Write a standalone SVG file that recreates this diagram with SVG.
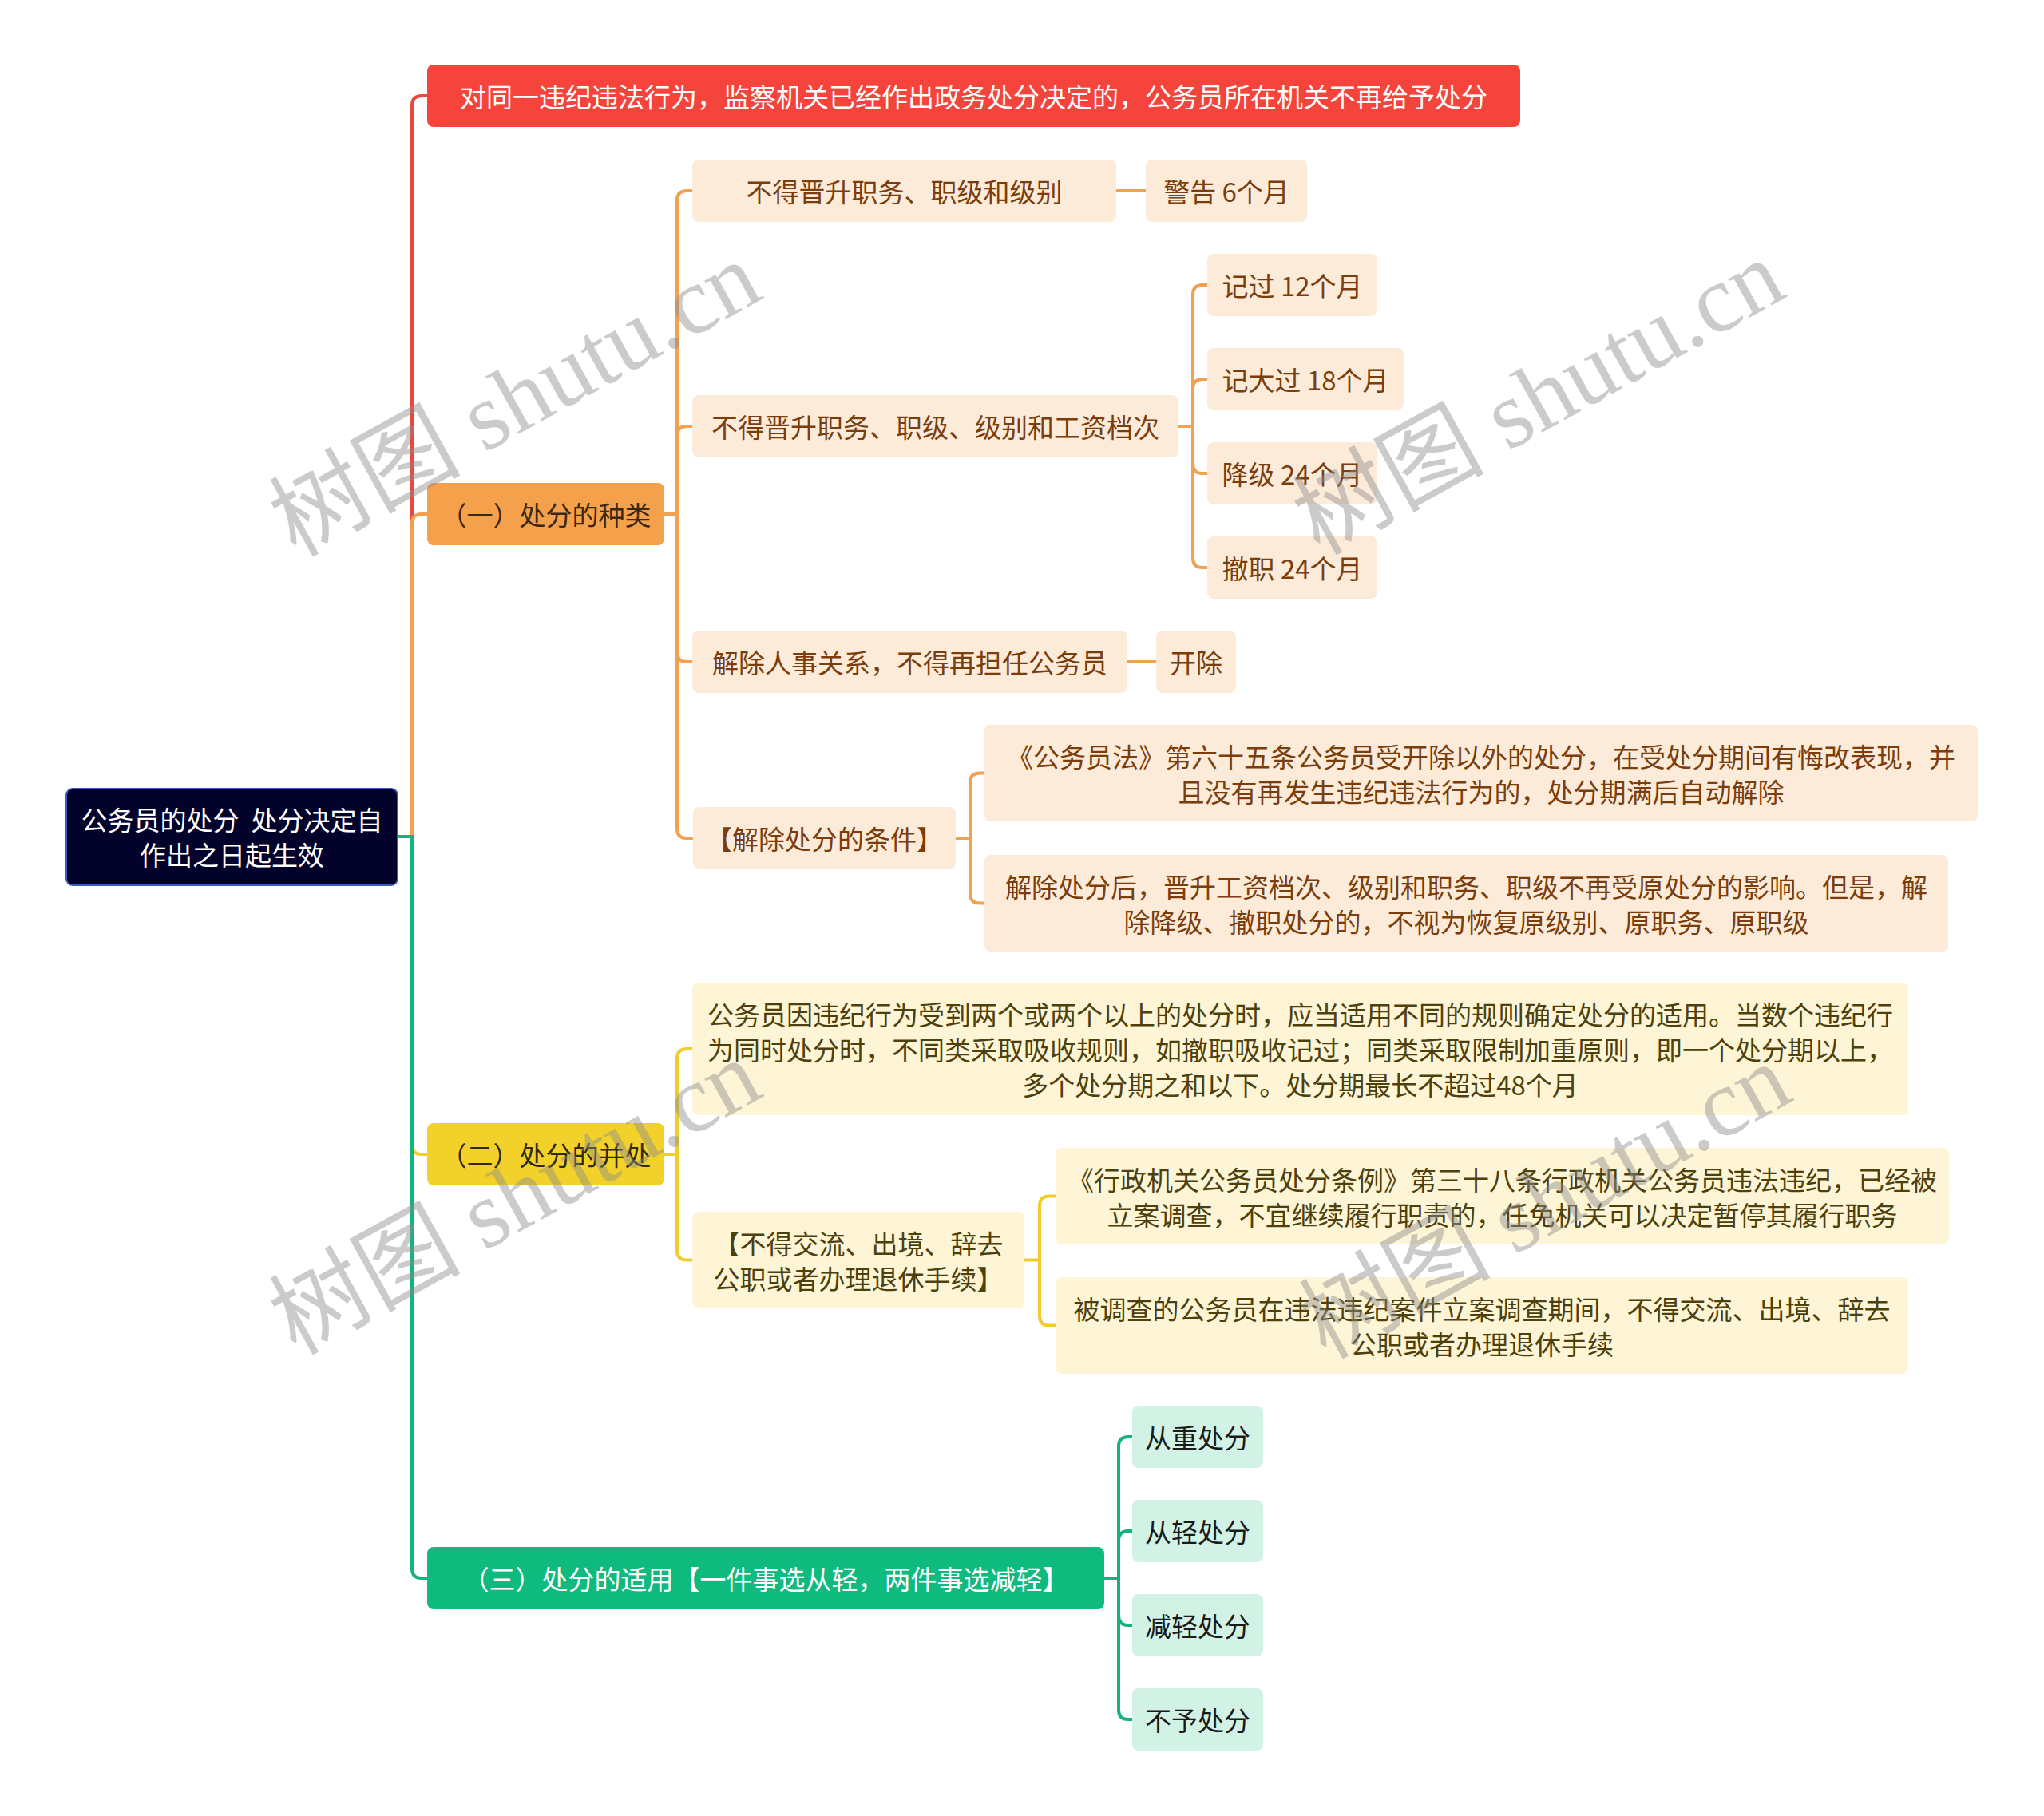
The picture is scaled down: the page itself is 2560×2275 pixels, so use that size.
<svg xmlns="http://www.w3.org/2000/svg" width="2560" height="2275" viewBox="0 0 2560 2275">
<style>
text{font-family:"Noto Sans CJK SC","Noto Sans",sans-serif;font-size:33px;text-anchor:middle;dominant-baseline:central}
.ln{fill:none;stroke-width:4;stroke-linecap:round}
.red{stroke:#e9473f}.org{stroke:#f0a151}.yel{stroke:#f0cd2c}.grn{stroke:#13b37c}
.n-root{fill:#02022a;stroke:#3a5bbf;stroke-width:2}
.n-red{fill:#f5443c}
.n-org1{fill:#f5a04b}
.n-org2{fill:#fdebda}
.n-yel1{fill:#f2d12b}
.n-yel2{fill:#fdf5d5}
.n-grn1{fill:#0fba7e}
.n-grn2{fill:#d1f2e4}
.t-w{fill:#ffffff}
.t-o1{fill:#3b2814}
.t-o2{fill:#7b3d0b}
.t-y1{fill:#2f2a10}
.t-y2{fill:#4d400c}
.t-g2{fill:#1a1a1a}
.wm{font-family:"Liberation Serif","Noto Sans CJK SC",serif;font-size:120px;fill:#8c8c8c;fill-opacity:0.45}
</style>

<g id="connectors">
  <path class="ln red" d="M516,1048 V132 Q516,120 528,120 H535"/>
  <path class="ln org" d="M516,1048 V656 Q516,644 528,644 H535"/>
  <path class="ln yel" d="M516,1048 V1434 Q516,1446 528,1446 H535"/>
  <path class="ln grn" d="M516,1048 V1965 Q516,1977 528,1977 H535"/>
  <path class="ln grn" d="M498,1048 H516"/>

  <path class="ln org" d="M832,644 H848"/>
  <path class="ln org" d="M848,644 V251 Q848,239 860,239 H867"/>
  <path class="ln org" d="M848,644 V546 Q848,534 860,534 H867"/>
  <path class="ln org" d="M848,644 V817 Q848,829 860,829 H867"/>
  <path class="ln org" d="M848,644 V1038 Q848,1050 860,1050 H867"/>
  <path class="ln org" d="M1398,239 H1435"/>
  <path class="ln org" d="M1412,829 H1448"/>
  <path class="ln org" d="M1476,534 H1494"/>
  <path class="ln org" d="M1494,534 V369 Q1494,357 1506,357 H1512"/>
  <path class="ln org" d="M1494,534 V487 Q1494,475 1506,475 H1512"/>
  <path class="ln org" d="M1494,534 V581 Q1494,593 1506,593 H1512"/>
  <path class="ln org" d="M1494,534 V699 Q1494,711 1506,711 H1512"/>
  <path class="ln org" d="M1197,1050 H1215"/>
  <path class="ln org" d="M1215,1050 V980.5 Q1215,968.5 1227,968.5 H1233"/>
  <path class="ln org" d="M1215,1050 V1119.5 Q1215,1131.5 1227,1131.5 H1233"/>

  <path class="ln yel" d="M832,1446 H848"/>
  <path class="ln yel" d="M848,1446 V1326 Q848,1314 860,1314 H867"/>
  <path class="ln yel" d="M848,1446 V1566.5 Q848,1578.5 860,1578.5 H867"/>
  <path class="ln yel" d="M1283,1578.5 H1302"/>
  <path class="ln yel" d="M1302,1578.5 V1510.5 Q1302,1498.5 1314,1498.5 H1322"/>
  <path class="ln yel" d="M1302,1578.5 V1648.5 Q1302,1660.5 1314,1660.5 H1322"/>

  <path class="ln grn" d="M1383,1977 H1401"/>
  <path class="ln grn" d="M1401,1977 V1812 Q1401,1800 1413,1800 H1418"/>
  <path class="ln grn" d="M1401,1977 V1930 Q1401,1918 1413,1918 H1418"/>
  <path class="ln grn" d="M1401,1977 V2024 Q1401,2036 1413,2036 H1418"/>
  <path class="ln grn" d="M1401,1977 V2142 Q1401,2154 1413,2154 H1418"/>
</g>

<g id="root">
  <rect class="n-root" x="83" y="988" width="415" height="121" rx="8"/>
  <text class="t-w" x="290.5" y="1026" xml:space="preserve">公务员的处分  处分决定自</text>
  <text class="t-w" x="290.5" y="1070">作出之日起生效</text>
</g>

<g id="n-top">
  <rect class="n-red" x="535" y="81" width="1369" height="78" rx="8"/>
  <text class="t-w" x="1219.5" y="120">对同一违纪违法行为，监察机关已经作出政务处分决定的，公务员所在机关不再给予处分</text>
</g>

<g id="n-1">
  <rect class="n-org1" x="535" y="605" width="297" height="78" rx="8"/>
  <text class="t-o1" x="683.5" y="644">（一）处分的种类</text>
</g>
<g id="n-1-1">
  <rect class="n-org2" x="867" y="200" width="531" height="78" rx="8"/>
  <text class="t-o2" x="1132.5" y="239">不得晋升职务、职级和级别</text>
</g>
<g id="n-1-1-1">
  <rect class="n-org2" x="1435" y="200" width="202" height="78" rx="8"/>
  <text class="t-o2" x="1536" y="239">警告 6个月</text>
</g>
<g id="n-1-2">
  <rect class="n-org2" x="867" y="495" width="609" height="78" rx="8"/>
  <text class="t-o2" x="1171.5" y="534">不得晋升职务、职级、级别和工资档次</text>
</g>
<g id="n-1-2-1">
  <rect class="n-org2" x="1512" y="318" width="213" height="78" rx="8"/>
  <text class="t-o2" x="1618.5" y="357">记过 12个月</text>
</g>
<g id="n-1-2-2">
  <rect class="n-org2" x="1512" y="436" width="246" height="78" rx="8"/>
  <text class="t-o2" x="1635" y="475">记大过 18个月</text>
</g>
<g id="n-1-2-3">
  <rect class="n-org2" x="1512" y="554" width="213" height="78" rx="8"/>
  <text class="t-o2" x="1618.5" y="593">降级 24个月</text>
</g>
<g id="n-1-2-4">
  <rect class="n-org2" x="1512" y="672" width="213" height="78" rx="8"/>
  <text class="t-o2" x="1618.5" y="711">撤职 24个月</text>
</g>
<g id="n-1-3">
  <rect class="n-org2" x="867" y="790" width="545" height="78" rx="8"/>
  <text class="t-o2" x="1139.5" y="829">解除人事关系，不得再担任公务员</text>
</g>
<g id="n-1-3-1">
  <rect class="n-org2" x="1448" y="790" width="100" height="78" rx="8"/>
  <text class="t-o2" x="1498" y="829">开除</text>
</g>
<g id="n-1-4">
  <rect class="n-org2" x="868" y="1011" width="329" height="78" rx="8"/>
  <text class="t-o2" x="1032.5" y="1050">【解除处分的条件】</text>
</g>
<g id="n-1-4-1">
  <rect class="n-org2" x="1233" y="908" width="1244" height="121" rx="8"/>
  <text class="t-o2" x="1855" y="946.5">《公务员法》第六十五条公务员受开除以外的处分，在受处分期间有悔改表现，并</text>
  <text class="t-o2" x="1855" y="990.5">且没有再发生违纪违法行为的，处分期满后自动解除</text>
</g>
<g id="n-1-4-2">
  <rect class="n-org2" x="1233" y="1071" width="1207" height="121" rx="8"/>
  <text class="t-o2" x="1836.5" y="1109.5">解除处分后，晋升工资档次、级别和职务、职级不再受原处分的影响。但是，解</text>
  <text class="t-o2" x="1836.5" y="1153.5">除降级、撤职处分的，不视为恢复原级别、原职务、原职级</text>
</g>

<g id="n-2">
  <rect class="n-yel1" x="535" y="1407" width="297" height="78" rx="8"/>
  <text class="t-y1" x="683.5" y="1446">（二）处分的并处</text>
</g>
<g id="n-2-1">
  <rect class="n-yel2" x="867" y="1231" width="1523" height="166" rx="8"/>
  <text class="t-y2" x="1628.5" y="1270">公务员因违纪行为受到两个或两个以上的处分时，应当适用不同的规则确定处分的适用。当数个违纪行</text>
  <text class="t-y2" x="1628.5" y="1314">为同时处分时，不同类采取吸收规则，如撤职吸收记过；同类采取限制加重原则，即一个处分期以上，</text>
  <text class="t-y2" x="1628.5" y="1358">多个处分期之和以下。处分期最长不超过48个月</text>
</g>
<g id="n-2-2">
  <rect class="n-yel2" x="867" y="1518" width="416" height="121" rx="8"/>
  <text class="t-y2" x="1075" y="1556.5">【不得交流、出境、辞去</text>
  <text class="t-y2" x="1075" y="1600.5">公职或者办理退休手续】</text>
</g>
<g id="n-2-2-1">
  <rect class="n-yel2" x="1322" y="1438" width="1119" height="121" rx="8"/>
  <text class="t-y2" x="1881.5" y="1476.5">《行政机关公务员处分条例》第三十八条行政机关公务员违法违纪，已经被</text>
  <text class="t-y2" x="1881.5" y="1520.5">立案调查，不宜继续履行职责的，任免机关可以决定暂停其履行职务</text>
</g>
<g id="n-2-2-2">
  <rect class="n-yel2" x="1322" y="1600" width="1068" height="121" rx="8"/>
  <text class="t-y2" x="1856" y="1638.5">被调查的公务员在违法违纪案件立案调查期间，不得交流、出境、辞去</text>
  <text class="t-y2" x="1856" y="1682.5">公职或者办理退休手续</text>
</g>

<g id="n-3">
  <rect class="n-grn1" x="535" y="1938" width="848" height="78" rx="8"/>
  <text class="t-w" x="959" y="1977">（三）处分的适用【一件事选从轻，两件事选减轻】</text>
</g>
<g id="n-3-1">
  <rect class="n-grn2" x="1418" y="1761" width="164" height="78" rx="8"/>
  <text class="t-g2" x="1500" y="1800">从重处分</text>
</g>
<g id="n-3-2">
  <rect class="n-grn2" x="1418" y="1879" width="164" height="78" rx="8"/>
  <text class="t-g2" x="1500" y="1918">从轻处分</text>
</g>
<g id="n-3-3">
  <rect class="n-grn2" x="1418" y="1997" width="164" height="78" rx="8"/>
  <text class="t-g2" x="1500" y="2036">减轻处分</text>
</g>
<g id="n-3-4">
  <rect class="n-grn2" x="1418" y="2115" width="164" height="78" rx="8"/>
  <text class="t-g2" x="1500" y="2154">不予处分</text>
</g>

<g id="watermark">
  <text class="wm" transform="translate(645,500) rotate(-29)">树图 shutu.cn</text>
  <text class="wm" transform="translate(1927,498) rotate(-29)">树图 shutu.cn</text>
  <text class="wm" transform="translate(645,1500) rotate(-29)">树图 shutu.cn</text>
  <text class="wm" transform="translate(1935,1505) rotate(-29)">树图 shutu.cn</text>
</g>
</svg>
